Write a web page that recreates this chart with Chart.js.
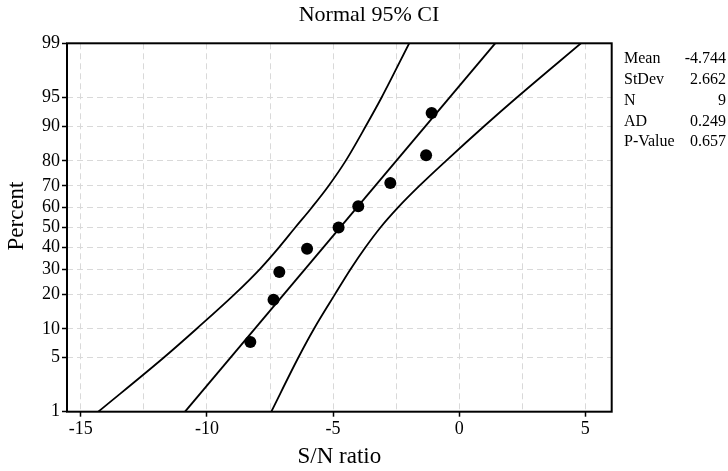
<!DOCTYPE html>
<html>
<head>
<meta charset="utf-8">
<script src="https://cdn.jsdelivr.net/npm/chart.js@4/dist/chart.umd.min.js"></script>
<style>
    body { margin: 0; background: #fff; }
    canvas { display: block; }
</style>
</head>
<body>
<canvas id="probPlot" width="728" height="471"></canvas>
<script>
// Observed S/N ratios and their plotted percents
var snValues = [-8.28, -7.36, -7.13, -6.03, -4.78, -4.00, -2.73, -1.31, -1.09]
var pctValues = [7.4, 18.1, 28.7, 39.4, 50, 60.6, 71.3, 81.9, 92.6]

// Fitted line (ends)
var fitX = [-10.87, 1.43]
var fitPct = [1, 99]

// 95% CI band, read at the percent grid lines
var bandPct = [1, 5, 10, 20, 30, 40, 50, 60, 70, 80, 90, 95, 99]
var leftX = [-14.31, -11.72, -10.42, -8.90, -7.90, -7.15, -6.50, -5.84, -5.18, -4.50, -3.70, -3.07, -1.98]
var rightX = [-7.45, -6.38, -5.76, -4.92, -4.30, -3.72, -3.12, -2.42, -1.58, -0.52, 1.00, 2.30, 4.83]

// Axis ticks
var xTicks = [-15, -12.5, -10, -7.5, -5, -2.5, 0, 2.5, 5]
var yTicks = [1, 5, 10, 20, 30, 40, 50, 60, 70, 80, 90, 95, 99]

// Summary box
var statNames = ['Mean', 'StDev', 'N', 'AD', 'P-Value']
var statValues = ['-4.744', '2.662', '9', '0.249', '0.657']

var serif = "'Liberation Serif', 'DejaVu Serif', serif"

// inverse of the normal cdf (Acklam), used for the probability axis
var probit = function (p) {
    var a = [-39.69683028665376, 220.9460984245205, -275.9285104469687, 138.3577518672690, -30.66479806614716, 2.506628277459239]
    var b = [-54.47609879822406, 161.5858368580409, -155.6989798598866, 66.80131188771972, -13.28068155288572]
    var c = [-0.007784894002430293, -0.3223964580411365, -2.400758277161838, -2.549732539343734, 4.374664141464968, 2.938163982698783]
    var d = [0.007784695709041462, 0.3224671290700398, 2.445134137142996, 3.754408661907416]
    var plow = 0.02425, q, r
    if (p < plow) {
        q = Math.sqrt(-2 * Math.log(p))
        return (((((c[0]*q+c[1])*q+c[2])*q+c[3])*q+c[4])*q+c[5]) / ((((d[0]*q+d[1])*q+d[2])*q+d[3])*q+1)
    }
    if (p > 1 - plow) {
        q = Math.sqrt(-2 * Math.log(1 - p))
        return -(((((c[0]*q+c[1])*q+c[2])*q+c[3])*q+c[4])*q+c[5]) / ((((d[0]*q+d[1])*q+d[2])*q+d[3])*q+1)
    }
    q = p - 0.5
    r = q * q
    return (((((a[0]*r+a[1])*r+a[2])*r+a[3])*r+a[4])*r+a[5])*q / (((((b[0]*r+b[1])*r+b[2])*r+b[3])*r+b[4])*r+1)
}

var toXY = function (xs, pcts) {
    return xs.map(function (x, i) {
        return { x: x, y: probit(pcts[i] / 100) }
    })
}

// white background, plot frame and the free texts
var decorations = {
    id: 'decorations',
    beforeDraw: function (chart) {
        var ctx = chart.ctx
        ctx.save()
        ctx.fillStyle = '#fff'
        ctx.fillRect(0, 0, chart.width, chart.height)
        ctx.restore()
    },
    afterDraw: function (chart) {
        var ctx = chart.ctx
        var area = chart.chartArea
        ctx.save()
        ctx.strokeStyle = '#000'
        ctx.lineWidth = 2
        ctx.strokeRect(area.left, area.top, area.right - area.left, area.bottom - area.top)

        ctx.fillStyle = '#000'
        ctx.textBaseline = 'middle'
        ctx.textAlign = 'center'
        ctx.font = '22px ' + serif
        ctx.fillText('Normal 95% CI', 369, 15)

        ctx.save()
        ctx.translate(16.5, 216)
        ctx.rotate(-Math.PI / 2)
        ctx.font = '23px ' + serif
        ctx.fillText('Percent', 0, 0)
        ctx.restore()

        ctx.font = '16px ' + serif
        statNames.forEach(function (name, i) {
            var y = 59 + i * 20.8
            ctx.textAlign = 'left'
            ctx.fillText(name, 624, y)
            ctx.textAlign = 'right'
            ctx.fillText(statValues[i], 726, y)
        })
        ctx.restore()
    }
}

new Chart(document.getElementById('probPlot').getContext('2d'), {
    type: 'scatter',
    data: {
        datasets: [{
            type: 'scatter',
            data: toXY(snValues, pctValues),
            backgroundColor: '#000',
            borderWidth: 0,
            pointRadius: 6
        }, {
            type: 'line',
            data: toXY(fitX, fitPct),
            borderColor: '#000',
            borderWidth: 1.8,
            pointRadius: 0,
            fill: false
        }, {
            type: 'line',
            data: toXY(leftX, bandPct),
            borderColor: '#000',
            borderWidth: 1.8,
            pointRadius: 0,
            cubicInterpolationMode: 'monotone',
            fill: false
        }, {
            type: 'line',
            data: toXY(rightX, bandPct),
            borderColor: '#000',
            borderWidth: 1.8,
            pointRadius: 0,
            cubicInterpolationMode: 'monotone',
            fill: false
        }]
    },
    options: {
        responsive: false,
        animation: false,
        layout: {
            padding: { top: 43.3, right: 116.3, left: 0, bottom: 0 }
        },
        plugins: {
            legend: { display: false },
            tooltip: { enabled: false }
        },
        scales: {
            x: {
                type: 'linear',
                min: -15.55,
                max: 6.05,
                afterBuildTicks: function (scale) {
                    scale.ticks = xTicks.map(function (v) { return { value: v } })
                },
                afterFit: function (scale) { scale.height = 59.3 },
                ticks: {
                    autoSkip: false,
                    maxRotation: 0,
                    padding: 2,
                    color: '#000',
                    font: { family: serif, size: 18 },
                    callback: function (v) { return v % 5 === 0 ? v : '' }
                },
                grid: {
                    color: '#d9d9d9',
                    lineWidth: 1,
                    tickLength: 5,
                    tickWidth: 1.5,
                    tickColor: function (c) {
                        return c.tick && c.tick.value % 5 === 0 ? '#000' : 'rgba(0,0,0,0)'
                    }
                },
                border: { display: false, dash: [6, 4] },
                title: {
                    display: true,
                    text: 'S/N ratio',
                    color: '#000',
                    font: { family: serif, size: 23 },
                    padding: { top: 0, bottom: 0 }
                }
            },
            y: {
                type: 'linear',
                min: probit(0.01),
                max: probit(0.99),
                afterBuildTicks: function (scale) {
                    scale.ticks = yTicks.map(function (p) { return { value: probit(p / 100) } })
                },
                afterFit: function (scale) { scale.width = 67 },
                ticks: {
                    autoSkip: false,
                    padding: 2,
                    color: '#000',
                    font: { family: serif, size: 18 },
                    callback: function (v, i) { return yTicks[i] }
                },
                grid: {
                    color: '#d9d9d9',
                    lineWidth: 1,
                    tickLength: 5,
                    tickWidth: 1.5,
                    tickColor: '#000'
                },
                border: { display: false, dash: [6, 4] }
            }
        }
    },
    plugins: [decorations]
})
</script>
</body>
</html>
